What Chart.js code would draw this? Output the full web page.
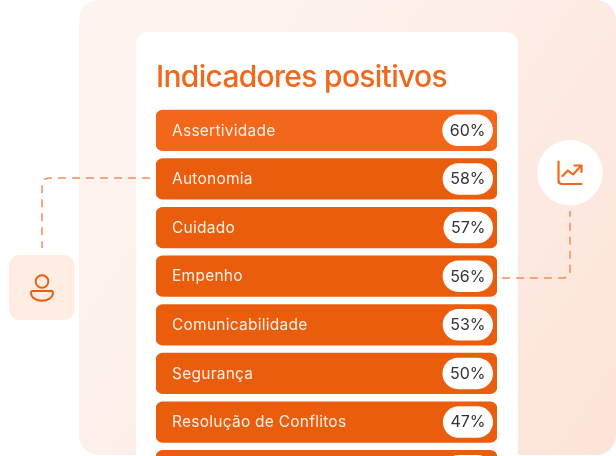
<!DOCTYPE html>
<html lang="pt-BR">
<head>
<meta charset="utf-8">
<title>Indicadores positivos</title>
<script src="https://cdn.jsdelivr.net/npm/chart.js@4"></script>
<style>
    html, body { margin: 0; padding: 0; background: #fff; }
    #pagina { position: relative; width: 616px; height: 456px; overflow: hidden; }
    #painel {
        position: absolute; left: 79px; top: 0; width: 537px; height: 455px;
        border-radius: 20px;
        background: linear-gradient(125deg, #fdf5f1 0%, #fdeee7 50%, #fce3d7 100%);
    }
    #cartao {
        position: absolute; left: 136px; top: 32px; width: 382px; height: 423px;
        border-radius: 12px 12px 0 0; background: #fff;
    }
    #quadro { position: absolute; left: 156px; top: 60px; width: 341px; height: 435px; }
    #linhas { position: absolute; left: 0; top: 0; }
</style>
</head>
<body>
<div id="pagina">
    <div id="painel"></div>
    <div id="cartao"></div>
    <div id="quadro"><canvas id="myChart"></canvas></div>
    <svg id="linhas" width="616" height="456" fill="none">
        <g stroke="#f58c58" stroke-width="1.5" stroke-dasharray="8 6">
            <path d="M150 178H50Q42 178 42 186V248"/>
            <path d="M502 278H562Q570 278 570 270V211"/>
        </g>
        <rect x="9" y="255" width="65.5" height="65" rx="11" fill="#ffede3"/>
        <circle cx="570" cy="172.7" r="32.7" fill="#fff"/>
        <g stroke="#ea5d0c" stroke-width="1.9" stroke-linecap="round" stroke-linejoin="round">
            <circle cx="42" cy="281.5" r="6.3"/>
            <path d="M32.5 291H51.5Q53 291 53 293C53 297.5 47.5 300.8 42 300.8C36.5 300.8 31 297.5 31 293Q31 291 32.5 291Z"/>
        </g>
        <g stroke="#f26719" stroke-width="2.2" stroke-linecap="round" stroke-linejoin="round">
            <path d="M558.5 161.5V180.5Q558.5 184 562 184H581.5"/>
            <path d="M562.5 176L568 170.5L573 174.5L581 166"/>
            <path d="M574.5 165.5H581.5V172"/>
        </g>
    </svg>
</div>
<script>
// a oitava linha aparece cortada na imagem: sem nome nem valor legiveis
const categorias = ["Assertividade", "Autonomia", "Cuidado", "Empenho", "Comunicabilidade", "Segurança", "Resolução de Conflitos", ""];
const valores = [60, 58, 57, 56, 53, 50, 47, null];
const trilha = [100, 100, 100, 100, 100, 100, 100, 100];
const cores = ["#f26719", "#ea5d0c", "#ea5d0c", "#ea5d0c", "#ea5d0c", "#ea5d0c", "#ea5d0c", "#ea5d0c"];

const fonte = "Inter, 'Noto Sans', sans-serif";

// pilula branca com o percentual, presa ao fim de cada barra
const pilulas = {
    id: "pilulas",
    afterDatasetsDraw(chart) {
        const ctx = chart.ctx;
        const barras = chart.getDatasetMeta(0).data;
        ctx.save();
        ctx.letterSpacing = "0px";
        ctx.font = "400 16px " + fonte;
        ctx.textBaseline = "middle";
        ctx.textAlign = "left";
        barras.forEach((barra, i) => {
            const temValor = valores[i] !== null;
            const texto = temValor ? valores[i] + "%" : "";
            const largura = temValor ? ctx.measureText(texto).width + 15 : 50;
            const direita = barra.x - 4;
            ctx.fillStyle = "#fff";
            ctx.beginPath();
            ctx.roundRect(direita - largura, barra.y - 15.7, largura, 31.4, 15.7);
            ctx.fill();
            ctx.fillStyle = "#333333";
            ctx.fillText(texto, direita - largura + 7.5, barra.y + 0.5);
        });
        ctx.restore();
    }
};

// titulo sai antes das barras e os rotulos depois, dai os dois ajustes
const espacamento = {
    id: "espacamento",
    beforeDraw(chart) {
        chart.ctx.letterSpacing = "-0.7px";
    },
    afterDatasetsDraw(chart) {
        chart.ctx.letterSpacing = "0.25px";
        chart.ctx.translate(0, 0.6);
    },
    afterDraw(chart) {
        chart.ctx.translate(0, -0.6);
    }
};

const ctx = document.getElementById("myChart");
new Chart(ctx, {
    type: "bar",
    data: {
        labels: categorias,
        datasets: [
            {
                label: "Indicadores positivos",
                data: trilha,
                backgroundColor: cores,
                borderRadius: 7,
                borderSkipped: false,
                barThickness: 40.7
            }
        ]
    },
    options: {
        indexAxis: "y",
        responsive: true,
        maintainAspectRatio: false,
        animation: false,
        layout: { padding: 0 },
        scales: {
            x: { display: false, min: 0, max: 100 },
            y: {
                border: { display: false },
                grid: { display: false },
                afterFit(scale) {
                    scale.width = 0;
                    scale.paddingTop = 0;
                    scale.paddingBottom = 0;
                },
                ticks: {
                    z: 1,
                    mirror: true,
                    padding: 16,
                    color: "#fff0e6",
                    autoSkip: false,
                    font: { family: fonte, size: 15.5 }
                }
            }
        },
        plugins: {
            legend: { display: false },
            tooltip: { enabled: false },
            title: {
                display: true,
                text: "Indicadores positivos",
                align: "start",
                color: "#f26719",
                font: { family: fonte, size: 30, weight: "500", lineHeight: 1.2 },
                padding: { top: 0, bottom: 10 }
            }
        }
    },
    plugins: [pilulas, espacamento]
});
</script>
</body>
</html>
